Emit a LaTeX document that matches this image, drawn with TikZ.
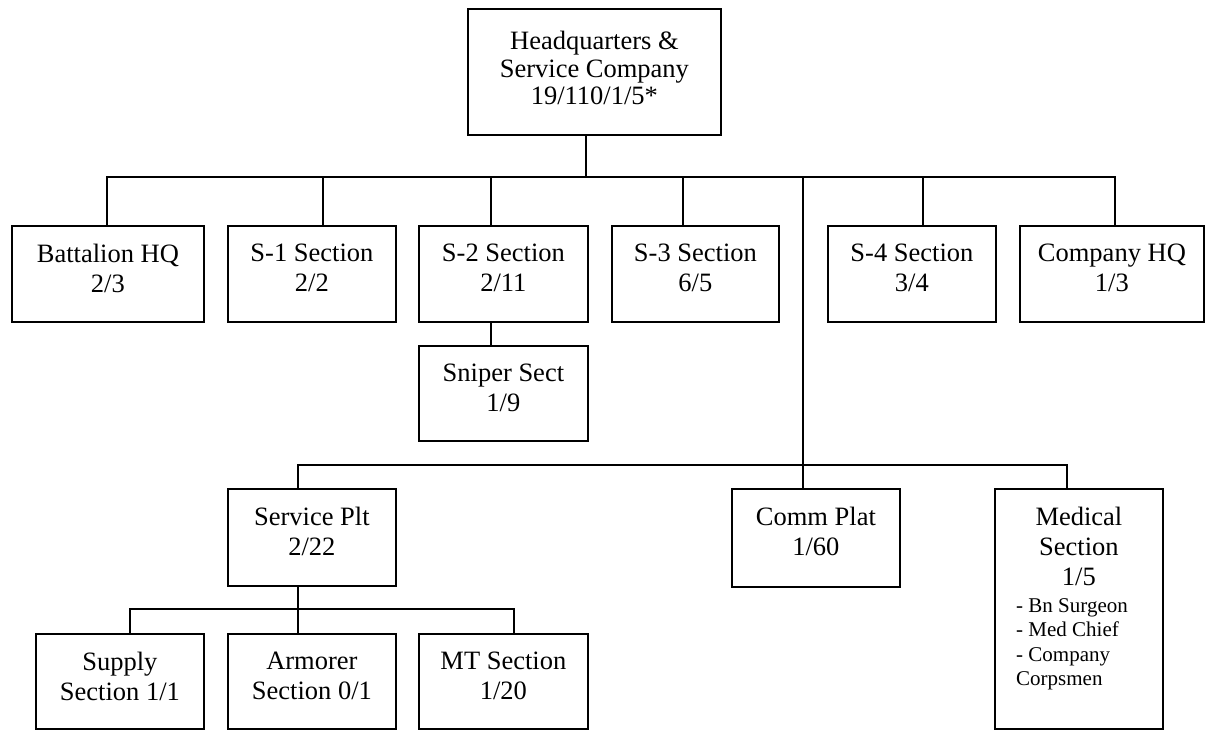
\documentclass[tikz,border=0pt]{standalone}
\usepackage{fontspec}
\setmainfont{Liberation Serif}
\begin{document}
\begin{tikzpicture}[x=1pt,y=-1pt,
  unit/.style={draw, line width=1.8pt, rectangle, inner sep=0pt, anchor=north west},
  txt/.style={inner sep=0pt, anchor=north, align=center, font=\fontsize{26.5}{30}\selectfont},
  small/.style={inner sep=0pt, anchor=north west, align=left, font=\fontsize{21}{24.5}\selectfont},
  link/.style={line width=1.8pt, line join=miter}]
\useasboundingbox (0,0) rectangle (1206,729);

% units
\node[unit, minimum width=253, minimum height=126] (hq)  at (467,8) {};
\node[unit, minimum width=192, minimum height=96]  (bhq) at (11,225) {};
\node[unit, minimum width=168, minimum height=96]  (s1)  at (227,225) {};
\node[unit, minimum width=169, minimum height=96]  (s2)  at (418,225) {};
\node[unit, minimum width=167, minimum height=96]  (s3)  at (611,225) {};
\node[unit, minimum width=168, minimum height=96]  (s4)  at (827,225) {};
\node[unit, minimum width=184, minimum height=96]  (chq) at (1019,225) {};
\node[unit, minimum width=169, minimum height=95]  (snp) at (418,345) {};
\node[unit, minimum width=168, minimum height=97]  (svc) at (227,488) {};
\node[unit, minimum width=168, minimum height=98]  (com) at (731,488) {};
\node[unit, minimum width=168, minimum height=240] (med) at (994,488) {};
\node[unit, minimum width=168, minimum height=95]  (sup) at (35,633) {};
\node[unit, minimum width=168, minimum height=95]  (arm) at (227,633) {};
\node[unit, minimum width=169, minimum height=95]  (mt)  at (418,633) {};

% labels
\node[txt, font=\fontsize{26.5}{27.5}\selectfont] (hq-t) at ([yshift=-23pt]hq.north) {Headquarters \&\\Service Company\\19/110/1/5*};
\node[txt] (bhq-t) at ([yshift=-19pt]bhq.north) {Battalion HQ\\2/3};
\node[txt] (s1-t)  at ([yshift=-19pt]s1.north)  {S-1 Section\\2/2};
\node[txt] (s2-t)  at ([yshift=-19pt]s2.north)  {S-2 Section\\2/11};
\node[txt] (s3-t)  at ([yshift=-19pt]s3.north)  {S-3 Section\\6/5};
\node[txt] (s4-t)  at ([yshift=-19pt]s4.north)  {S-4 Section\\3/4};
\node[txt] (chq-t) at ([yshift=-19pt]chq.north) {Company HQ\\1/3};
\node[txt] (snp-t) at ([yshift=-19pt]snp.north) {Sniper Sect\\1/9};
\node[txt] (svc-t) at ([yshift=-19pt]svc.north) {Service Plt\\2/22};
\node[txt] (com-t) at ([yshift=-19pt]com.north) {Comm Plat\\1/60};
\node[txt] (med-t) at ([yshift=-19pt]med.north) {Medical\\Section\\1/5};
\node[small] (med-l) at (1016,598) {- Bn Surgeon\\- Med Chief\\- Company\\Corpsmen};
\node[txt] (sup-t) at ([yshift=-19pt]sup.north) {Supply\\Section 1/1};
\node[txt] (arm-t) at ([yshift=-19pt]arm.north) {Armorer\\Section 0/1};
\node[txt] (mt-t)  at ([yshift=-19pt]mt.north)  {MT Section\\1/20};

% junctions
\coordinate (top) at (586,177);
\coordinate (a1) at (107,177);
\coordinate (a2) at (323,177);
\coordinate (a3) at (491,177);
\coordinate (a4) at (683,177);
\coordinate (a5) at (803,177);
\coordinate (a6) at (923,177);
\coordinate (a7) at (1115,177);
\coordinate (b1) at (298,465);
\coordinate (b2) at (803,465);
\coordinate (b3) at (1067,465);
\coordinate (c1) at (130,609);
\coordinate (c2) at (298,609);
\coordinate (c3) at (514,609);

% first level
\draw[link] (top |- hq.south) -- (top);
\draw[link] (a1 |- bhq.north) -- (a1) -- (a7) -- (a7 |- chq.north);
\foreach \j/\n in {a2/s1, a3/s2, a4/s3, a6/s4}
  \draw[link] (\j) -- (\j |- \n.north);
\draw[link] (a3 |- s2.south) -- (a3 |- snp.north);

% platoons
\draw[link] (a5) -- (b2) -- (b2 |- com.north);
\draw[link] (b1 |- svc.north) -- (b1) -- (b3) -- (b3 |- med.north);

% service platoon sections
\draw[link] (c2 |- svc.south) -- (c2) -- (c2 |- arm.north);
\draw[link] (c1 |- sup.north) -- (c1) -- (c3) -- (c3 |- mt.north);
\end{tikzpicture}
\end{document}
